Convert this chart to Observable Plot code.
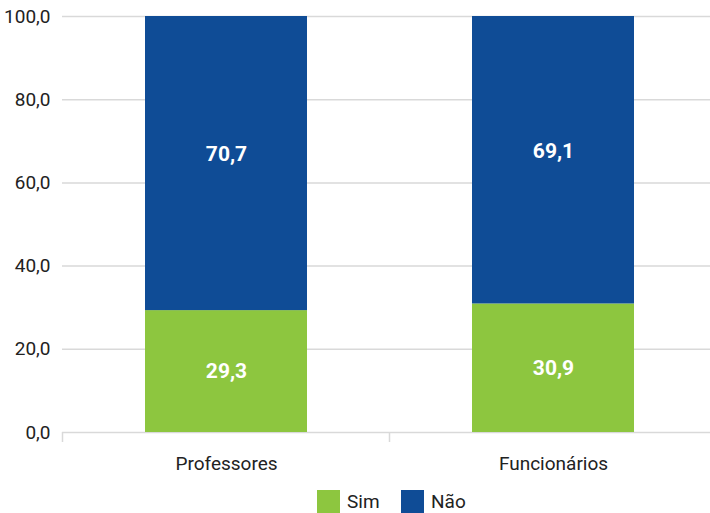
<!DOCTYPE html>
<html>
<head>
<meta charset="utf-8">
<script src="https://cdn.jsdelivr.net/npm/d3@7"></script>
<script src="https://cdn.jsdelivr.net/npm/@observablehq/plot@0.6"></script>
<style>
  body { margin: 0; background: #fff; font-family: Roboto, "DejaVu Sans", sans-serif; }
  #chart svg { display: block; }
  .legend { position: relative; height: 33px; font-size: 19px; color: #222; }
  .legend .item { position: absolute; top: 10px; display: flex; align-items: center; }
  .legend span.sw { display: inline-block; width: 23px; height: 23px; margin-right: 7px; }
</style>
</head>
<body>
<div id="chart"></div>
<div class="legend" id="legend"></div>
<script>
const categories = ["Professores", "Funcionários"];
const series = ["Sim", "Não"];
const simValues = [29.3, 30.9];
const naoValues = [70.7, 69.1];
const yTicks = [0, 20, 40, 60, 80, 100];
const colors = ["#8dc63f", "#0f4c96"];

const data = [];
categories.forEach((c, i) => {
  data.push({cat: c, serie: "Sim", value: simValues[i]});
  data.push({cat: c, serie: "Não", value: naoValues[i]});
});

const fmt = d => d.toFixed(1).replace(".", ",");

const plot = Plot.plot({
  width: 710,
  height: 480,
  marginTop: 16,
  marginBottom: 48,
  marginLeft: 62,
  marginRight: -6,
  style: {fontFamily: 'Roboto, "DejaVu Sans", sans-serif', fontSize: "19px", color: "#222", background: "#fff"},
  x: {domain: categories, paddingInner: 0.506, paddingOuter: 0.253, label: null, tickSize: 0, tickPadding: 24},
  y: {domain: [0, 100], ticks: yTicks, tickFormat: fmt, label: null, tickSize: 0, tickPadding: 12},
  color: {domain: series, range: colors},
  marks: [
    Plot.ruleY(yTicks, {stroke: "#d9d9d9", strokeWidth: 1.5}),
    Plot.barY(data, {x: "cat", y: "value", fill: "serie", order: series}),
    Plot.text(data, Plot.stackY({x: "cat", y: "value", z: "serie", order: series, text: d => d.serie === "Sim" ? fmt(d.value) : "", fill: "white", fontWeight: "bold", fontSize: 21})),
    Plot.text(data, Plot.stackY({x: "cat", y: "value", z: "serie", order: series, text: d => d.serie === "Não" ? fmt(d.value) : "", fill: "white", fontWeight: "bold", fontSize: 21, dy: -9}))
  ]
});
document.getElementById("chart").appendChild(plot);

// category boundary ticks, positioned from the library's x scale
const xs = plot.scale("x");
const svg = d3.select(plot);
const y0 = 480 - 48;
const step = xs.step;
const first = xs.apply(categories[0]) - (step - xs.bandwidth) / 2;
for (let i = 0; i <= categories.length; i++) {
  const x = first + i * step;
  svg.append("line").attr("x1", x).attr("x2", x).attr("y1", y0).attr("y2", y0 + 10)
    .attr("stroke", "#d9d9d9").attr("stroke-width", 1.5);
}

const legend = document.getElementById("legend");
const legendX = [317, 401];
series.forEach((s, i) => {
  const item = document.createElement("div");
  item.className = "item";
  item.style.left = legendX[i] + "px";
  item.innerHTML = `<span class="sw" style="background:${colors[i]}"></span>${s}`;
  legend.appendChild(item);
});
</script>
</body>
</html>
